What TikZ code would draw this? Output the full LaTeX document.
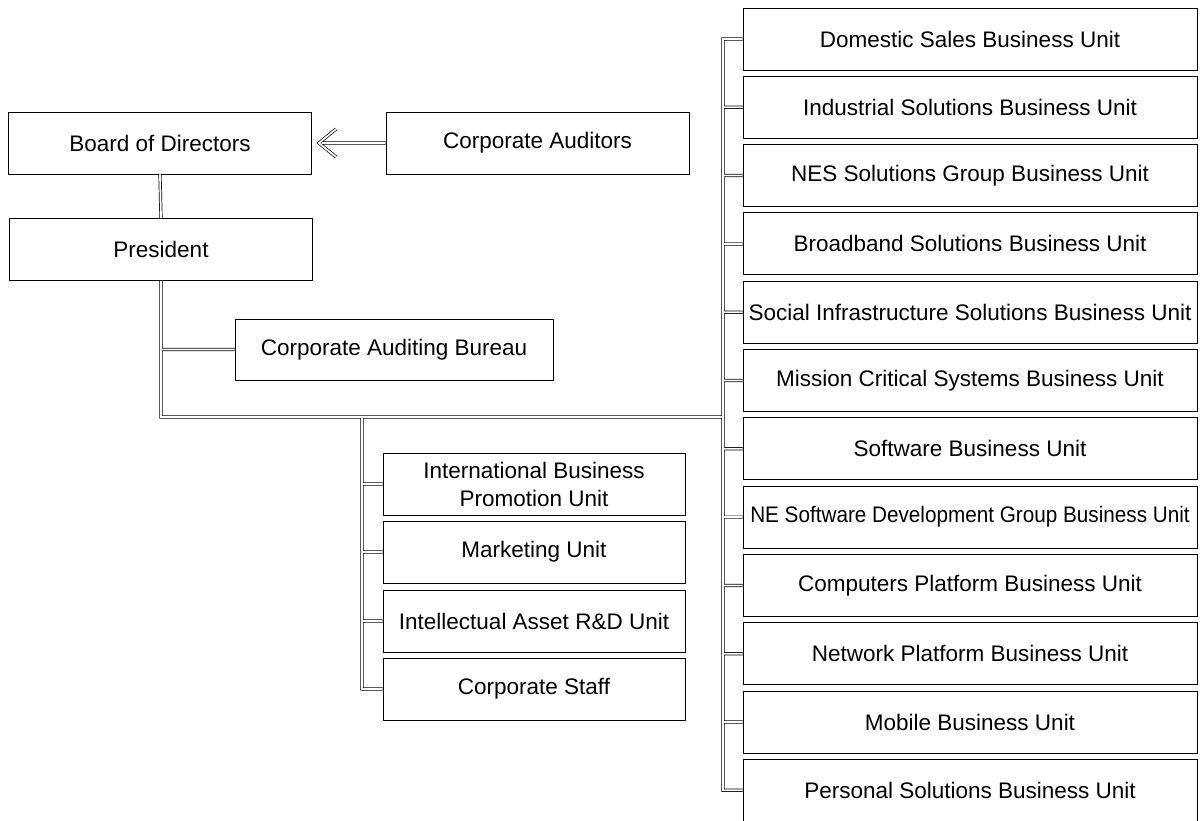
\documentclass[tikz,border=0pt]{standalone}
\usepackage{fontspec}
\setmainfont{Liberation Sans}
\usepackage{graphicx}
\usetikzlibrary{arrows.meta}
\begin{document}
\begin{tikzpicture}[x=1pt,y=-1pt,
  box/.style={draw, line width=0.9pt, inner sep=0pt, align=center,
    font=\fontsize{22.5}{28}\selectfont},
  topbox/.style={box, minimum width=303pt, minimum height=62pt},
  lbox/.style={box, minimum width=302pt, minimum height=62pt},
  rbox/.style={box, minimum width=454pt, minimum height=62pt},
  conn/.style={double, double distance=1.8pt, line width=0.7pt}]
\useasboundingbox (0,0) rectangle (1202,821);
\node[topbox] (bod) at (160,143) {Board of Directors};
\node[topbox] (pres) at (161,249.5) {President};
\node[topbox] (ca) at (537.5,143) {Corporate Auditors};
\node[box, minimum width=318pt, minimum height=61pt] (cab) at (394,349.5) {Corporate Auditing Bureau};
\node[lbox] (l1) at (534,484) {International Business\\Promotion Unit};
\node[lbox] (l2) at (534,552) {Marketing Unit};
\node[lbox] (l3) at (534,621) {Intellectual Asset R\&D Unit};
\node[lbox] (l4) at (534,689) {Corporate Staff};
\node[rbox] (r1) at (970,39) {Domestic Sales Business Unit};
\node[rbox] (r2) at (970,107.3) {Industrial Solutions Business Unit};
\node[rbox] (r3) at (970,175.6) {NES Solutions Group Business Unit};
\node[rbox] (r4) at (970,243.9) {Broadband Solutions Business Unit};
\node[rbox] (r5) at (970,312.2) {Social Infrastructure Solutions Business Unit};
\node[rbox] (r6) at (970,380.5) {Mission Critical Systems Business Unit};
\node[rbox] (r7) at (970,448.8) {Software Business Unit};
\node[rbox] (r8) at (970,517.1) {\scalebox{0.92}[1]{NE Software Development Group Business Unit}};
\node[rbox] (r9) at (970,585.4) {Computers Platform Business Unit};
\node[rbox] (r10) at (970,653.7) {Network Platform Business Unit};
\node[rbox] (r11) at (970,722) {Mobile Business Unit};
\node[rbox] (r12) at (970,790.3) {Personal Solutions Business Unit};
\coordinate (pv) at (161,417);
\coordinate (lv) at (362,417);
\coordinate (rv) at (723,417);
\coordinate (tip) at ([xshift=7pt]bod.east);
\draw[conn] (bod.south) -- (pres.north)
  (pres.south) -- (pv) -- (rv)
  (cab.west) -- (cab.west -| pv)
  (r1.west) -| (r12.west -| rv) -- (r12.west)
  (r2.west) -- (r2.west -| rv)
  (r3.west) -- (r3.west -| rv)
  (r4.west) -- (r4.west -| rv)
  (r5.west) -- (r5.west -| rv)
  (r6.west) -- (r6.west -| rv)
  (r7.west) -- (r7.west -| rv)
  (r8.west) -- (r8.west -| rv)
  (r9.west) -- (r9.west -| rv)
  (r10.west) -- (r10.west -| rv)
  (r11.west) -- (r11.west -| rv)
  (lv) |- (l4.west)
  (l1.west) -- (l1.west -| lv)
  (l2.west) -- (l2.west -| lv)
  (l3.west) -- (l3.west -| lv);
\draw[conn, line join=miter, miter limit=10] (ca.west) -- ([xshift=3pt]tip)
  ([xshift=17pt,yshift=-14pt]tip) -- (tip) -- ([xshift=17pt,yshift=14pt]tip);
\end{tikzpicture}
\end{document}
